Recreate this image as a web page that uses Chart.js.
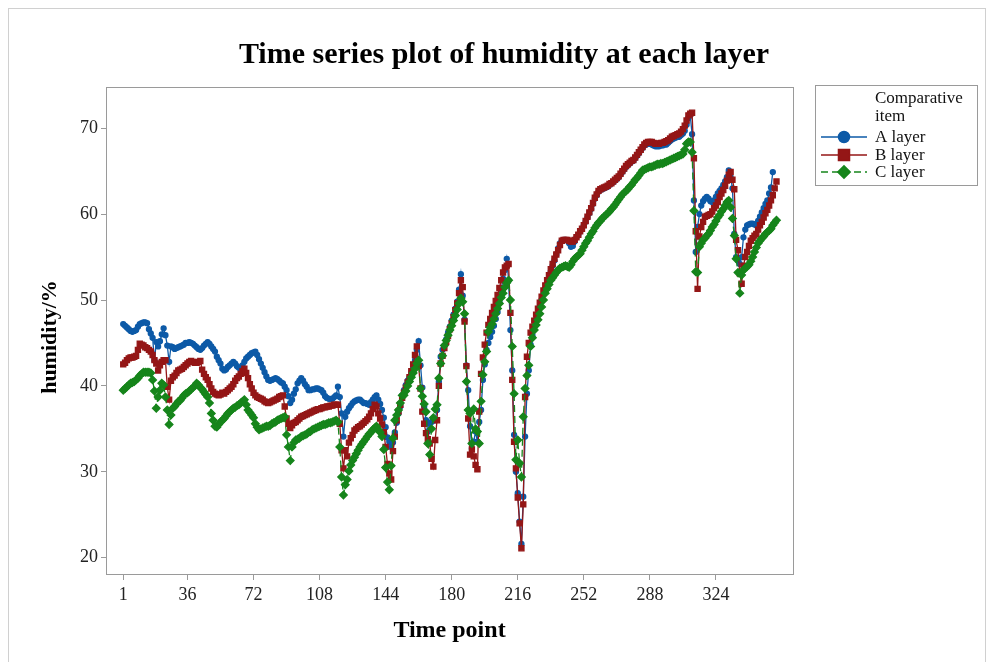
<!DOCTYPE html>
<html>
<head>
<meta charset="utf-8">
<script src="https://cdn.jsdelivr.net/npm/chart.js@4.4.1/dist/chart.umd.min.js"></script>
<style>
  html, body { margin: 0; padding: 0; background: #fff; }
  #wrap { position: relative; width: 989px; height: 662px; overflow: hidden; }
  #frame { position: absolute; left: 8px; top: 8px; width: 976px; height: 700px; border: 1px solid #d0d0d0; }
  canvas { position: absolute; left: 0; top: 0; }
</style>
</head>
<body>
<div id="wrap">
  <div id="frame"></div>
  <canvas id="humidityChart" width="989" height="662"></canvas>
</div>
<script>
// tick labels
const timePointTicks = [1, 36, 72, 108, 144, 180, 216, 252, 288, 324];
const humidityTicks = [20, 30, 40, 50, 60, 70];
const layerNames = ['A layer', 'B layer', 'C layer'];

// humidity (%) per time point
const layerA = [
  47.2, 47.0, 46.8, 46.6, 46.4, 46.3, 46.4, 46.5, 46.9, 47.2,
  47.3, 47.4, 47.4, 47.3, 46.6, 46.1, 45.6, 43.0, 45.1, 44.6,
  45.2, 46.0, 46.7, 45.9, 44.7, 42.8, 44.6, 44.5, 44.3, 44.4,
  44.5, 44.6, 44.7, 44.8, 45.0, 45.0, 45.1, 45.0, 44.9, 44.7,
  44.5, 44.3, 44.2, 44.4, 44.7, 44.9, 45.1, 44.9, 44.6, 44.3,
  44.0, 43.4, 43.0, 42.6, 42.0, 41.8, 41.9, 42.2, 42.4, 42.6,
  42.8, 42.6, 42.3, 42.1, 42.0, 42.4, 42.8, 43.2, 43.4, 43.6,
  43.8, 43.9, 44.0, 43.6, 43.1, 42.6, 42.1, 41.6, 41.1, 40.7,
  40.6, 40.7, 40.8, 40.9, 40.8, 40.6, 40.4, 40.3, 39.9, 39.5,
  38.8, 38.0, 38.4, 39.1, 39.6, 40.3, 40.6, 40.9, 40.6, 40.2,
  39.9, 39.5, 39.5, 39.6, 39.6, 39.7, 39.7, 39.6, 39.5, 39.2,
  38.8, 38.6, 38.5, 38.5, 38.5, 38.7, 38.9, 39.9, 38.7, 36.8,
  34.1, 36.4, 37.0, 37.4, 37.7, 38.0, 38.2, 38.3, 38.4, 38.4,
  38.2, 38.0, 38.0, 37.9, 37.8, 38.1, 38.4, 38.7, 38.9, 38.4,
  37.9, 37.2, 36.3, 35.2, 34.0, 33.5, 32.9, 33.4, 34.6, 35.7,
  36.8, 37.6, 38.9, 39.5, 40.1, 40.6, 41.0, 41.6, 42.2, 43.0,
  44.2, 45.2, 42.4, 39.8, 37.6, 36.0, 34.7, 35.6, 35.8, 36.0,
  36.0, 37.2, 40.5, 43.4, 44.2, 44.7, 45.4, 46.2, 46.9, 47.6,
  48.3, 49.0, 49.8, 51.2, 53.0, 50.5, 47.7, 42.4, 39.5, 35.3,
  32.7, 33.5, 34.7, 33.5, 35.8, 37.2, 40.7, 42.5, 44.2, 45.0,
  45.7, 46.3, 47.0, 47.8, 48.6, 49.8, 51.2, 52.5, 53.5, 54.8,
  52.3, 46.5, 41.8, 34.3, 30.0, 27.5, 24.2, 21.6, 27.1, 34.1,
  39.1, 41.8, 44.8, 45.9, 46.9, 47.7, 48.4, 49.2, 50.0, 50.6,
  51.3, 52.0, 52.6, 53.3, 54.0, 54.6, 55.3, 56.0, 56.6, 56.9,
  57.0, 57.0, 56.9, 56.6, 56.2, 56.3, 56.8, 57.3, 57.6, 58.0,
  58.3, 58.7, 59.1, 59.6, 60.1, 60.6, 61.2, 61.8, 62.2, 62.6,
  62.8, 62.9, 63.0, 63.1, 63.2, 63.4, 63.6, 63.7, 63.9, 64.1,
  64.3, 64.6, 64.9, 65.2, 65.5, 65.7, 65.9, 66.1, 66.2, 66.5,
  66.8, 67.1, 67.4, 67.7, 68.0, 68.1, 68.2, 68.2, 68.1, 68.0,
  67.9, 67.9, 67.9, 68.0, 68.0, 68.1, 68.1, 68.3, 68.5, 68.7,
  68.8, 68.9, 69.0, 69.0, 69.2, 69.4, 69.7, 70.4, 71.2, 71.5,
  69.3, 61.6, 55.6, 58.5, 60.0, 61.0, 61.5, 61.8, 62.0, 61.8,
  61.5, 61.4, 61.6, 62.0, 62.4, 62.7, 63.0, 63.4, 63.8, 64.3,
  65.1, 64.3, 63.0, 57.7, 55.0, 54.6, 54.2, 55.0, 57.3, 58.2,
  58.7, 58.8, 58.9, 58.9, 58.8, 58.7, 59.2, 59.7, 60.2, 60.7,
  61.2, 61.6, 62.4, 63.1, 64.9
];

const layerB = [
  42.5, 42.7, 43.0, 43.2, 43.3, 43.3, 43.4, 43.5, 44.2, 44.9,
  44.8, 44.7, 44.5, 44.4, 44.2, 44.0, 43.6, 43.0, 42.6, 41.8,
  42.4, 42.8, 43.0, 43.0, 39.9, 38.4, 40.6, 41.0, 41.2, 41.5,
  41.8, 41.9, 42.0, 42.2, 42.4, 42.6, 42.8, 42.9, 42.8, 42.7,
  42.7, 42.8, 42.9, 41.9, 41.4, 41.0, 40.7, 40.2, 39.7, 39.3,
  39.1, 39.0, 38.9, 39.0, 39.2, 39.1, 39.3, 39.5, 39.7, 39.9,
  40.2, 40.6, 40.9, 41.1, 41.4, 41.7, 42.0, 41.5, 40.9, 40.2,
  39.7, 39.2, 38.9, 38.7, 38.6, 38.5, 38.4, 38.2, 38.1, 38.0,
  38.1, 38.2, 38.3, 38.4, 38.5, 38.7, 38.8, 38.9, 37.6, 36.2,
  35.6, 35.1, 35.4, 35.7, 35.8, 36.0, 36.2, 36.4, 36.5, 36.6,
  36.7, 36.8, 36.9, 37.0, 37.1, 37.2, 37.3, 37.3, 37.4, 37.5,
  37.5, 37.6, 37.6, 37.7, 37.7, 37.8, 37.8, 37.8, 35.6, 32.5,
  30.4, 32.5, 31.8, 33.4, 33.9, 34.3, 34.8, 35.0, 35.2, 35.3,
  35.5, 35.7, 35.9, 36.1, 36.4, 36.8, 37.3, 37.8, 37.6, 36.8,
  36.2, 35.5, 34.6, 32.9, 30.9, 29.8, 29.1, 32.4, 34.1, 36.0,
  37.0, 37.8, 38.6, 39.2, 39.8, 40.4, 41.0, 41.7, 42.5, 43.6,
  44.6, 42.3, 39.7, 37.0, 35.6, 34.5, 33.8, 33.3, 31.5, 30.6,
  33.7, 36.0, 40.0, 42.6, 43.5, 44.4, 45.1, 45.8, 46.6, 47.3,
  48.0, 48.8, 49.6, 50.8, 52.3, 51.5, 47.5, 42.3, 36.2, 32.0,
  32.6, 31.8, 30.8, 30.3, 37.0, 41.4, 43.3, 44.8, 46.2, 47.1,
  47.8, 48.5, 49.2, 49.9, 50.6, 51.4, 52.3, 53.2, 53.8, 54.0,
  54.2, 48.5, 40.7, 33.5, 30.4, 27.0, 24.0, 21.1, 26.2, 38.7,
  43.4, 45.0, 46.2, 46.9, 47.6, 48.3, 49.0, 49.7, 50.4, 51.1,
  51.7, 52.3, 52.9, 53.6, 54.2, 54.8, 55.3, 55.8, 56.4, 56.9,
  57.0, 57.0, 57.0, 56.9, 56.8, 56.8, 57.0, 57.3, 57.6, 58.0,
  58.3, 58.7, 59.2, 59.7, 60.2, 60.7, 61.3, 61.9, 62.3, 62.7,
  62.9, 63.0, 63.1, 63.2, 63.3, 63.5, 63.6, 63.8, 64.0, 64.2,
  64.4, 64.7, 65.0, 65.3, 65.6, 65.8, 66.0, 66.2, 66.3, 66.6,
  66.9, 67.2, 67.5, 67.8, 68.1, 68.3, 68.4, 68.4, 68.4, 68.3,
  68.2, 68.2, 68.2, 68.3, 68.3, 68.4, 68.5, 68.6, 68.8, 69.0,
  69.1, 69.2, 69.3, 69.4, 69.6, 69.9, 70.3, 70.9, 71.5, 71.7,
  71.8, 66.5, 58.0, 51.3, 57.4, 58.5, 59.1, 59.7, 59.8, 59.9,
  60.0, 60.3, 60.7, 61.0, 61.4, 62.0, 62.4, 62.8, 63.3, 63.9,
  64.6, 64.9, 64.0, 62.9, 57.0, 55.8, 53.1, 51.9, 54.0, 55.0,
  55.6, 56.3, 56.9, 57.2, 57.5, 57.7, 58.2, 58.7, 59.1, 59.6,
  60.1, 60.5, 61.0, 61.6, 62.2, 63.0, 63.8
];

const layerC = [
  39.5, 39.7, 39.9, 40.1, 40.3, 40.4, 40.5, 40.7, 40.9, 41.2,
  41.4, 41.6, 41.6, 41.6, 41.6, 41.5, 40.7, 39.4, 37.4, 38.7,
  39.5, 40.3, 40.1, 38.7, 37.2, 35.5, 36.6, 37.4, 37.6, 37.9,
  38.2, 38.3, 38.6, 38.9, 39.1, 39.2, 39.4, 39.6, 39.8, 40.0,
  40.3, 40.1, 39.8, 39.6, 39.3, 39.0, 38.7, 38.0, 36.8, 36.0,
  35.3, 35.2, 35.5, 35.8, 36.0, 36.2, 36.5, 36.8, 37.0, 37.2,
  37.4, 37.5, 37.7, 37.8, 38.0, 38.2, 38.4, 37.8, 37.2, 36.9,
  36.6, 36.3, 35.6, 35.2, 34.9, 35.0, 35.1, 35.2, 35.3, 35.3,
  35.4, 35.6, 35.7, 35.8, 36.0, 36.1, 36.2, 36.3, 36.4, 34.3,
  32.9, 31.3, 32.9, 33.4, 33.7, 33.8, 33.9, 34.1, 34.2, 34.3,
  34.4, 34.6, 34.7, 34.9, 35.0, 35.1, 35.2, 35.3, 35.4, 35.5,
  35.5, 35.6, 35.7, 35.7, 35.8, 35.9, 36.0, 35.8, 32.9, 29.4,
  27.3, 28.5, 29.1, 30.1, 30.8, 31.3, 31.7, 32.1, 32.5, 32.9,
  33.2, 33.5, 33.8, 34.1, 34.4, 34.6, 34.9, 35.1, 35.3, 34.9,
  34.6, 34.1, 32.6, 30.5, 28.8, 27.9, 30.7, 33.9, 36.0, 36.6,
  37.2, 38.0, 38.9, 38.9, 39.4, 40.0, 40.5, 41.0, 41.5, 42.0,
  42.6, 43.0, 39.7, 38.8, 37.9, 37.0, 33.3, 32.0, 35.0, 36.3,
  37.3, 37.8, 40.9, 42.6, 43.5, 44.7, 45.3, 45.9, 46.5, 47.0,
  47.6, 48.2, 48.9, 49.6, 50.2, 49.8, 48.4, 40.5, 37.2, 36.8,
  33.3, 37.3, 35.0, 34.7, 33.3, 38.2, 41.3, 42.8, 44.0, 46.3,
  46.8, 47.2, 47.8, 48.4, 49.0, 49.6, 50.3, 50.8, 51.5, 52.0,
  52.3, 50.0, 44.6, 39.1, 31.4, 33.7, 31.0, 29.4, 36.4, 39.7,
  41.2, 42.4, 44.6, 45.6, 46.5, 47.1, 47.7, 48.4, 49.2, 50.0,
  50.8, 51.3, 51.8, 52.3, 52.6, 52.9, 53.2, 53.5, 53.7, 53.8,
  53.9, 54.0, 53.9, 53.8, 54.1, 54.5, 54.8, 55.0, 55.2, 55.4,
  55.8, 56.2, 56.6, 56.9, 57.3, 57.7, 58.0, 58.4, 58.7, 59.0,
  59.2, 59.5, 59.7, 59.9, 60.1, 60.3, 60.6, 60.8, 61.1, 61.4,
  61.7, 62.0, 62.3, 62.5, 62.7, 62.9, 63.2, 63.4, 63.7, 64.0,
  64.2, 64.5, 64.8, 65.1, 65.2, 65.3, 65.4, 65.5, 65.5, 65.6,
  65.7, 65.8, 65.8, 65.9, 65.9, 66.0, 66.1, 66.2, 66.3, 66.4,
  66.5, 66.6, 66.7, 66.8, 66.9, 67.0, 67.5, 68.2, 68.4, 68.4,
  67.2, 60.4, 53.3, 53.2, 56.2, 56.6, 57.0, 57.2, 57.5, 57.7,
  58.1, 58.5, 58.8, 59.2, 59.6, 59.9, 60.3, 60.6, 61.0, 61.4,
  61.6, 60.8, 59.5, 57.5, 54.8, 53.2, 50.8, 52.9, 53.5, 53.7,
  53.9, 54.1, 54.5, 55.0, 55.6, 56.1, 56.6, 56.9, 57.2, 57.4,
  57.7, 57.9, 58.1, 58.3, 58.7, 59.0, 59.3
];

const SERIF = "'Liberation Serif', 'Times New Roman', serif";
const AXIS_GREY = '#9a9a9a';

function toPoints(values) {
    return values.map((v, i) => ({ x: i + 1, y: v }));
}

// frame round the plot, titles and the legend box at the right
const decorations = {
    id: 'decorations',
    afterDraw(chart) {
        const ctx = chart.ctx;
        const area = chart.chartArea;
        ctx.save();
        ctx.strokeStyle = AXIS_GREY;
        ctx.lineWidth = 1;
        ctx.strokeRect(Math.round(area.left) + 0.5, Math.round(area.top) + 0.5,
            Math.round(area.right - area.left), Math.round(area.bottom - area.top));

        ctx.fillStyle = '#000';
        ctx.font = 'bold 30px ' + SERIF;
        ctx.textAlign = 'center';
        ctx.textBaseline = 'alphabetic';
        ctx.fillText('Time series plot of humidity at each layer', 504, 63);

        // axis titles
        ctx.font = 'bold 24px ' + SERIF;
        ctx.textBaseline = 'middle';
        ctx.fillText('Time point', (area.left + area.right) / 2, 631);
        ctx.save();
        ctx.translate(50, 337);
        ctx.rotate(-Math.PI / 2);
        ctx.font = 'bold 22px ' + SERIF;
        ctx.fillText('humidity/%', 0, 0);
        ctx.restore();

        // legend
        ctx.textBaseline = 'alphabetic';
        ctx.strokeStyle = AXIS_GREY;
        ctx.strokeRect(815.5, 85.5, 162, 100);
        ctx.font = '17px ' + SERIF;
        ctx.textAlign = 'left';
        ctx.fillStyle = '#111';
        ctx.fillText('Comparative', 875, 103);
        ctx.fillText('item', 875, 121);
        const rowY = [137, 155, 172];
        const legendRadius = [5.5, 7.8, 6.2];
        chart.data.datasets.forEach((ds, i) => {
            const y = rowY[i];
            ctx.strokeStyle = ds.borderColor;
            ctx.lineWidth = 1.5;
            ctx.setLineDash(ds.borderDash || []);
            ctx.beginPath();
            ctx.moveTo(821, y);
            ctx.lineTo(867, y);
            ctx.stroke();
            ctx.setLineDash([]);
            ctx.fillStyle = ds.borderColor;
            Chart.helpers.drawPoint(ctx, {
                pointStyle: ds.pointStyle, radius: legendRadius[i], rotation: 0, borderWidth: 1
            }, 844, y);
            ctx.fillStyle = '#111';
            ctx.fillText(ds.label, 875, y + 5);
        });
        ctx.restore();
    }
};

let ctx = document.getElementById('humidityChart').getContext('2d');
let humidityChart = new Chart(ctx, {
    type: 'line',
    data: {
        datasets: [{
            label: layerNames[0],
            data: toPoints(layerA),
            borderColor: '#0d5aa7',
            backgroundColor: '#0d5aa7',
            pointStyle: 'circle',
            pointRadius: 2.5,
            borderWidth: 1.3,
            order: 3
        }, {
            label: layerNames[1],
            data: toPoints(layerB),
            borderColor: '#941616',
            backgroundColor: '#941616',
            pointStyle: 'rect',
            pointRadius: 3.6,
            borderWidth: 1.3,
            order: 2
        }, {
            label: layerNames[2],
            data: toPoints(layerC),
            borderColor: '#16851b',
            backgroundColor: '#16851b',
            pointStyle: 'rectRot',
            pointRadius: 3.8,
            borderWidth: 1.3,
            borderDash: [7, 4],
            order: 1
        }]
    },
    options: {
        responsive: false,
        animation: false,
        devicePixelRatio: 1,
        layout: { padding: { left: 0, right: 196, top: 87, bottom: 0 } },
        elements: {
            line: { tension: 0 },
            point: { borderWidth: 1, hoverRadius: 3 }
        },
        plugins: {
            legend: { display: false },
            title: { display: false },
            tooltip: { enabled: false }
        },
        scales: {
            x: {
                type: 'linear',
                min: -8.4,
                max: 366,
                afterBuildTicks: scale => { scale.ticks = timePointTicks.map(v => ({ value: v })); },
                afterFit: scale => { scale.height = 88; },
                grid: { drawOnChartArea: false, drawTicks: true, tickLength: 6, color: AXIS_GREY },
                border: { display: true, color: AXIS_GREY },
                ticks: {
                    autoSkip: false,
                    maxRotation: 0,
                    padding: 4,
                    color: '#222',
                    font: { family: SERIF, size: 18 },
                    callback: v => String(v)
                }
            },
            y: {
                min: 18.1,
                max: 74.8,
                afterBuildTicks: scale => { scale.ticks = humidityTicks.map(v => ({ value: v })); },
                afterFit: scale => { scale.width = 106; },
                grid: { drawOnChartArea: false, drawTicks: true, tickLength: 5, color: AXIS_GREY },
                border: { display: true, color: AXIS_GREY },
                ticks: {
                    padding: 3,
                    color: '#222',
                    font: { family: SERIF, size: 18 },
                    callback: v => String(v)
                }
            }
        }
    },
    plugins: [decorations]
});
</script>
</body>
</html>
